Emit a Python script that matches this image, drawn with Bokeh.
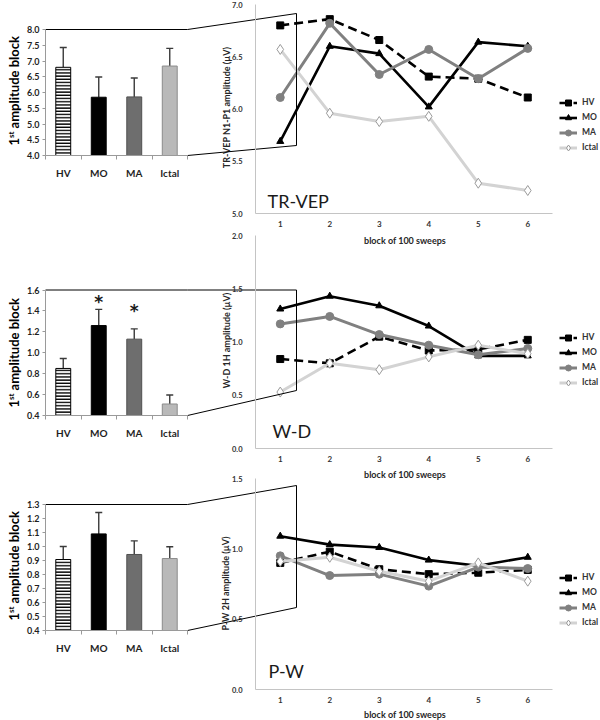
import numpy as np
from bokeh.plotting import figure
from bokeh.models import (Range1d, LinearAxis, FixedTicker, PrintfTickFormatter,
                          ColumnDataSource, Whisker, TeeHead, Legend, LegendItem, Grid)
from bokeh.core.properties import value
from bokeh.embed import file_html
from bokeh.resources import INLINE

# ---------------------------------------------------------------- data
groups = ["HV", "MO", "MA", "Ictal"]
blocks = ["1", "2", "3", "4", "5", "6"]

# 1st amplitude block (bar charts): mean and upper SD
trvep_first_mean = [6.80, 5.85, 5.86, 6.84]
trvep_first_sd = [0.63, 0.64, 0.60, 0.56]
wd_first_mean = [0.85, 1.26, 1.13, 0.51]
wd_first_sd = [0.095, 0.155, 0.098, 0.086]
wd_first_star = [np.nan, 1.53, 1.45, np.nan]      # significance asterisks
pw_first_mean = [0.907, 1.09, 0.943, 0.914]
pw_first_sd = [0.093, 0.153, 0.097, 0.084]

# amplitude per block of 100 sweeps
trvep_HV = [6.80, 6.86, 6.66, 6.31, 6.29, 6.11]
trvep_MO = [5.69, 6.60, 6.53, 6.02, 6.64, 6.60]
trvep_MA = [6.11, 6.82, 6.33, 6.57, 6.29, 6.58]
trvep_Ictal = [6.57, 5.96, 5.88, 5.93, 5.29, 5.22]

wd_HV = [0.84, 0.80, 1.05, 0.92, 0.93, 1.02]
wd_MO = [1.31, 1.43, 1.34, 1.15, 0.87, 0.87]
wd_MA = [1.17, 1.24, 1.07, 0.97, 0.88, 0.94]
wd_Ictal = [0.53, 0.80, 0.74, 0.86, 0.97, 0.89]

pw_HV = [0.90, 0.98, 0.855, 0.82, 0.83, 0.85]
pw_MO = [1.09, 1.03, 1.01, 0.92, 0.88, 0.94]
pw_MA = [0.95, 0.81, 0.82, 0.735, 0.87, 0.86]
pw_Ictal = [0.91, 0.94, 0.84, 0.77, 0.90, 0.77]

# tick labels
trvep_bar_ticks = [4.0, 4.5, 5.0, 5.5, 6.0, 6.5, 7.0, 7.5, 8.0]
wd_bar_ticks = [0.4, 0.6, 0.8, 1.0, 1.2, 1.4, 1.6]
pw_bar_ticks = [0.4, 0.5, 0.6, 0.7, 0.8, 0.9, 1.0, 1.1, 1.2, 1.3]
trvep_line_ticks = [5.0, 5.5, 6.0, 6.5, 7.0]
wd_line_ticks = [0.0, 0.5, 1.0, 1.5, 2.0]
pw_line_ticks = [0.0, 0.5, 1.0, 1.5]

panel_names = ["TR-VEP", "W-D", "P-W"]
line_titles = ["TR-VEP N1-P1 amplitude (µV)", "W-D 1H amplitude (µV)", "P-W 2H amplitude (µV)"]
bar_title = ["1", "st", "amplitude block"]
x_title = "block of 100 sweeps"

# ---------------------------------------------------------------- layout (pixels)
W, H = 600, 720
RX0, RX1 = 0.0, 600.0
RY0, RY1 = 0.0, 720.0
BAR_PX = (45, 187)
LINE_PX = (255, 552)
bar_py = [(155, 29), (415, 289.5), (630, 504)]
line_py = [(213, 4), (448, 235), (689, 478)]
box_right = 296
box_py = [(13, 145), (289.5, 390), (485, 607)]
bar_title_cy = [89.5, 351.5, 564.5]
line_title_pos = [(225.5, 107), (225.5, 340), (225, 583)]
xtitle_y = [240, 474, 714]
panel_label_pos = [(267, 200), (272, 430), (268, 670)]
legend_row1 = [102, 337, 577]
legend_x = 559

FONT = "Lato"
kx = W / (RX1 - RX0)
ky = H / (RY1 - RY0)


def sx(X):
    return (X - RX0) * kx


def sy(Y):
    return (Y - RY0) * ky


def x_range_for(a, b, pa, pb):
    k = (b - a) / (pb - pa)
    return Range1d(a - (pa - RX0) * k, b + (RX1 - pb) * k)


def y_range_for(lo, hi, plo, phi):
    k = (hi - lo) / (plo - phi)
    return Range1d(lo - (RY1 - plo) * k, hi + (phi - RY0) * k)


panels = [
    dict(mean=trvep_first_mean, sd=trvep_first_sd, star=None, bticks=trvep_bar_ticks,
         lticks=trvep_line_ticks,
         lines={"HV": trvep_HV, "MO": trvep_MO, "MA": trvep_MA, "Ictal": trvep_Ictal}),
    dict(mean=wd_first_mean, sd=wd_first_sd, star=wd_first_star, bticks=wd_bar_ticks,
         lticks=wd_line_ticks,
         lines={"HV": wd_HV, "MO": wd_MO, "MA": wd_MA, "Ictal": wd_Ictal}),
    dict(mean=pw_first_mean, sd=pw_first_sd, star=None, bticks=pw_bar_ticks,
         lticks=pw_line_ticks,
         lines={"HV": pw_HV, "MO": pw_MO, "MA": pw_MA, "Ictal": pw_Ictal}),
]

bar_fill = ["white", "black", "#6e6e6e", "#b9b9b9"]
bar_line = ["black", "black", "#505050", "#8c8c8c"]
bar_hatch = ["horizontal_line", " ", " ", " "]

series_style = {
    "HV": dict(color="black", width=2.6, dash="9 5", marker="square", size=7,
               fill="black", mline="black"),
    "MO": dict(color="black", width=2.6, dash="solid", marker="triangle", size=7,
               fill="black", mline="black"),
    "MA": dict(color="#808080", width=3.0, dash="solid", marker="circle", size=8,
               fill="#808080", mline="#808080"),
    "Ictal": dict(color="#d3d3d3", width=3.0, dash="solid", marker="diamond", size=10,
                  fill="white", mline="#9a9a9a"),
}

# ---------------------------------------------------------------- figure
p = figure(width=W, height=H, x_range=Range1d(RX0, RX1), y_range=Range1d(RY1, RY0),
           x_axis_location=None, y_axis_location=None, toolbar_location=None,
           output_backend="svg", min_border=0, outline_line_color=None,
           background_fill_color="white", border_fill_color="white")
p.center = [c for c in p.center if not isinstance(c, Grid)]

bar_x = [i + 0.5 for i in range(len(groups))]
line_x = [i + 0.5 for i in range(len(blocks))]

p.extra_x_ranges = {"bar_x": x_range_for(0, len(groups), *BAR_PX),
                    "line_x": x_range_for(0, len(blocks), *LINE_PX)}
yrs = {}
for i, pan in enumerate(panels):
    yrs[f"bar_y{i}"] = y_range_for(pan["bticks"][0], pan["bticks"][-1], *bar_py[i])
    yrs[f"line_y{i}"] = y_range_for(pan["lticks"][0], pan["lticks"][-1], *line_py[i])
p.extra_y_ranges = yrs


def style_axis(ax, color, size, line_color):
    ax.major_label_text_font = FONT
    ax.major_label_text_font_size = size
    ax.major_label_text_font_style = "bold"
    ax.major_label_text_color = color
    ax.axis_line_color = line_color
    ax.axis_line_width = 1
    ax.minor_tick_line_color = None


for i, pan in enumerate(panels):
    byn, lyn = f"bar_y{i}", f"line_y{i}"
    blo, bhi = pan["bticks"][0], pan["bticks"][-1]
    llo, lhi = pan["lticks"][0], pan["lticks"][-1]

    # ---- bar chart
    src = ColumnDataSource(dict(x=bar_x, top=pan["mean"],
                                hi=[m + s for m, s in zip(pan["mean"], pan["sd"])],
                                fill=bar_fill, line=bar_line, hatch=bar_hatch))
    p.vbar(x="x", top="top", bottom=blo, width=0.42, source=src,
           x_range_name="bar_x", y_range_name=byn,
           fill_color="fill", line_color="line", line_width=1,
           hatch_pattern="hatch", hatch_color="black", hatch_scale=3.2, hatch_weight=1.5)
    wh = Whisker(source=src, base="x", lower="top", upper="hi", dimension="height",
                 x_range_name="bar_x", y_range_name=byn,
                 line_color="#3a3a3a", line_width=1.4, lower_head=None,
                 upper_head=TeeHead(size=7, line_color="#3a3a3a", line_width=1.4))
    p.add_layout(wh)

    if pan["star"] is not None:
        sx_ = [x for x, s in zip(bar_x, pan["star"]) if not np.isnan(s)]
        sy_ = [s for s in pan["star"] if not np.isnan(s)]
        p.text(x=sx_, y=sy_, text=["*"] * len(sx_), x_range_name="bar_x", y_range_name=byn,
               text_font=value("DejaVu Sans"), text_font_size=value("17px"),
               text_font_style="bold", y_offset=5,
               text_align="center", text_baseline="middle", text_color="#1a1a1a")

    yax = LinearAxis(x_range_name="bar_x", y_range_name=byn, fixed_location=0,
                     bounds=(blo, bhi), ticker=FixedTicker(ticks=pan["bticks"]),
                     formatter=PrintfTickFormatter(format="%.1f"))
    style_axis(yax, "#1f1f1f", "9px", "#9a9a9a")
    yax.major_tick_line_color = "#9a9a9a"
    yax.major_tick_out = 3
    yax.major_tick_in = 0
    yax.major_label_standoff = 3
    p.add_layout(yax, "left")

    xax = LinearAxis(x_range_name="bar_x", y_range_name=byn, fixed_location=blo,
                     bounds=(0, len(groups)),
                     ticker=FixedTicker(ticks=bar_x, minor_ticks=list(range(len(groups) + 1))),
                     major_label_overrides={x: g for x, g in zip(bar_x, groups)})
    style_axis(xax, "#1f1f1f", "10px", "#9a9a9a")
    xax.major_tick_line_color = None
    xax.major_tick_out = 0
    xax.major_tick_in = 0
    xax.minor_tick_line_color = "#9a9a9a"
    xax.minor_tick_out = 4
    xax.minor_tick_in = 0
    xax.major_label_standoff = 7
    p.add_layout(xax, "below")

    # ---- line chart
    items = []
    for g in groups:
        st = series_style[g]
        lr = p.line(line_x, pan["lines"][g], x_range_name="line_x", y_range_name=lyn,
                    line_color=st["color"], line_width=st["width"], line_dash=st["dash"])
        sr = p.scatter(line_x, pan["lines"][g], x_range_name="line_x", y_range_name=lyn,
                       marker=st["marker"], size=st["size"], fill_color=st["fill"],
                       line_color=st["mline"], line_width=1)
        items.append(LegendItem(label=g, renderers=[lr, sr]))

    lyax = LinearAxis(x_range_name="line_x", y_range_name=lyn, fixed_location=0,
                      bounds=(llo, lhi), ticker=FixedTicker(ticks=pan["lticks"]),
                      formatter=PrintfTickFormatter(format="%.1f"))
    style_axis(lyax, "#333333", "7.5px", "#c4c4c4")
    lyax.major_tick_line_color = None
    lyax.major_tick_out = 0
    lyax.major_tick_in = 0
    lyax.major_label_standoff = 13
    p.add_layout(lyax, "left")

    lxax = LinearAxis(x_range_name="line_x", y_range_name=lyn, fixed_location=llo,
                      bounds=(0, len(blocks)), ticker=FixedTicker(ticks=line_x),
                      major_label_overrides={x: b for x, b in zip(line_x, blocks)})
    style_axis(lxax, "#333333", "8px", "#c4c4c4")
    lxax.major_tick_line_color = None
    lxax.major_tick_out = 0
    lxax.major_tick_in = 0
    lxax.major_label_standoff = 7
    p.add_layout(lxax, "below")

    top_s = sy(legend_row1[i]) - 7.5
    leg = Legend(items=items, location=(sx(legend_x), H - (top_s + 15 * len(groups))),
                 orientation="vertical", border_line_color=None, background_fill_alpha=0,
                 padding=0, margin=0, spacing=0, glyph_width=18, glyph_height=15,
                 label_height=15, label_standoff=5, label_text_font=FONT,
                 label_text_font_size="8.5px", label_text_font_style="bold",
                 label_text_color="#333333")
    p.add_layout(leg)

# ---------------------------------------------------------------- texts
n = len(panels)
# "1st amplitude block" (rotated, with superscript)
one_len, st_len, gap = 7.6, 6.4, 3.2
total = one_len + st_len + gap + 94.0
yb = [c + total / 2 for c in bar_title_cy]
p.text(x=[13.5] * n, y=yb, text=[bar_title[0]] * n, angle=np.pi / 2,
       text_font=value(FONT), text_font_size=value("13px"), text_font_style="bold",
       text_align="left", text_baseline="alphabetic", text_color="black")
p.text(x=[10.5] * n, y=[v - one_len for v in yb], text=[bar_title[1]] * n, angle=np.pi / 2,
       text_font=value(FONT), text_font_size=value("8px"), text_font_style="bold",
       text_align="left", text_baseline="alphabetic", text_color="black")
p.text(x=[13.5] * n, y=[v - one_len - st_len - gap for v in yb], text=[bar_title[2]] * n,
       angle=np.pi / 2, text_font=value(FONT), text_font_size=value("13px"),
       text_font_style="bold", text_align="left", text_baseline="alphabetic",
       text_color="black")

# line chart y titles
p.text(x=[q[0] for q in line_title_pos], y=[q[1] for q in line_title_pos], text=line_titles,
       angle=np.pi / 2, text_font=value(FONT), text_font_size=value("9px"),
       text_font_style="bold", text_align="center", text_baseline="middle",
       text_color="#262626")
# x titles
xc = (LINE_PX[0] + LINE_PX[1]) / 2 + 1
p.text(x=[xc] * n, y=xtitle_y, text=[x_title] * n, text_font=value(FONT),
       text_font_size=value("9px"), text_font_style="bold", text_align="center",
       text_baseline="middle", text_color="#262626")
# panel labels
p.text(x=[q[0] for q in panel_label_pos], y=[q[1] for q in panel_label_pos], text=panel_names,
       text_font=value(FONT), text_font_size=value("18px"), text_align="left",
       text_baseline="alphabetic", text_color="#1a1a1a")

# ---------------------------------------------------------------- zoom connectors
cxs, cys = [], []
for i in range(n):
    b0, b1 = bar_py[i]
    t, bt = box_py[i]
    cxs.append([BAR_PX[0], BAR_PX[1], box_right, box_right, BAR_PX[1]])
    cys.append([b1, b1, t, bt, b0])
p.multi_line(xs=cxs, ys=cys, line_color="black", line_width=1)

open("out.html", "w").write(file_html(p, INLINE))
